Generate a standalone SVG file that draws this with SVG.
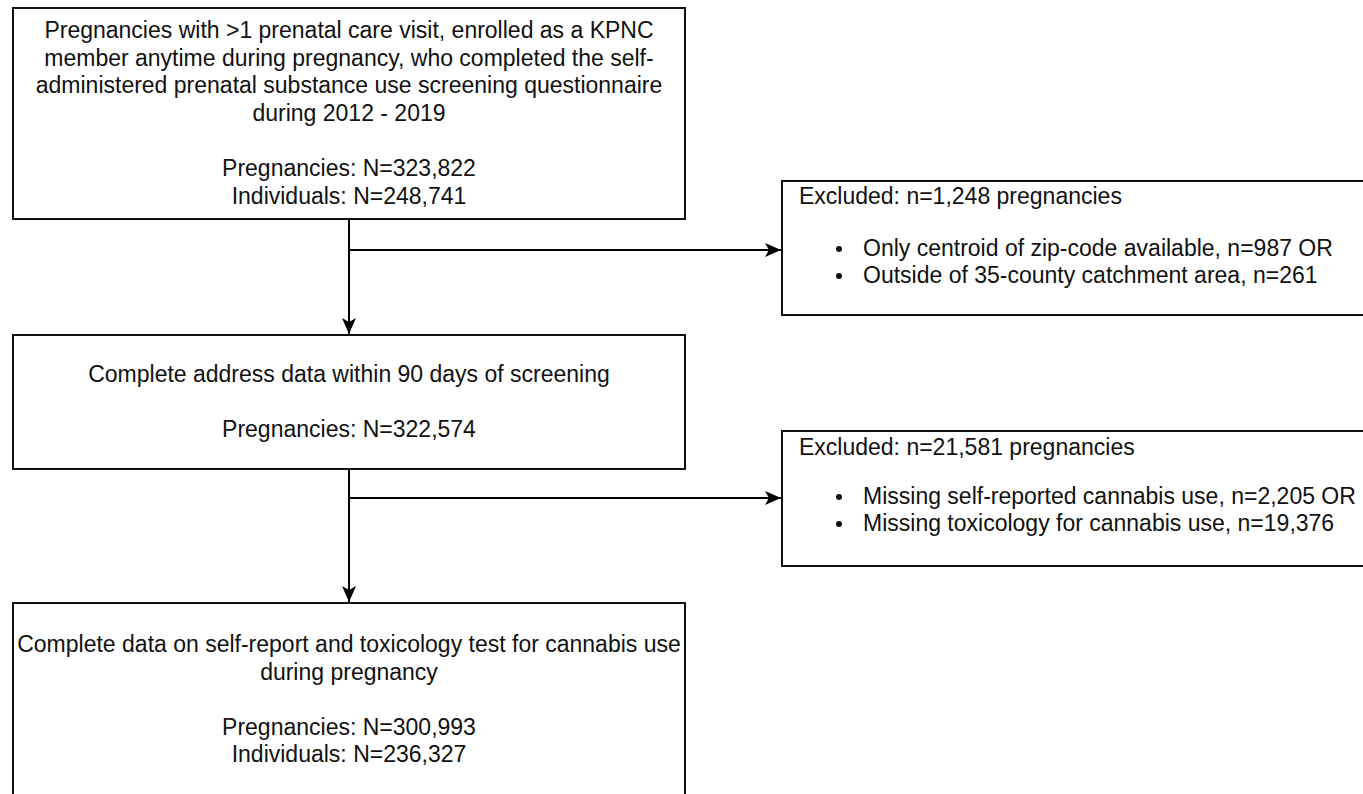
<svg xmlns="http://www.w3.org/2000/svg" width="1363" height="794" viewBox="0 0 1363 794">
<style>
.box{fill:#fff;stroke:#111;stroke-width:2}
.t{font-family:"Liberation Sans",Arial,sans-serif;font-size:23px;fill:#111}
.c{text-anchor:middle}
.edge{fill:none;stroke:#000;stroke-width:2}
.dot{fill:#111}
</style>
<defs>
<marker id="arr" viewBox="0 0 16 14" refX="16" refY="7" markerWidth="16" markerHeight="14" markerUnits="userSpaceOnUse" orient="auto">
<path d="M0,0 L16,7 L0,14 L4,7 Z" fill="#000"/>
</marker>
</defs>
<rect width="1363" height="794" fill="#fff"/>
<g id="edges">
<path class="edge" d="M349,219 V334" marker-end="url(#arr)"/>
<path class="edge" d="M350,250 H781" marker-end="url(#arr)"/>
<path class="edge" d="M349,469 V602" marker-end="url(#arr)"/>
<path class="edge" d="M350,498 H781" marker-end="url(#arr)"/>
</g>
<g id="n1">
<rect class="box" x="13" y="8" width="672" height="211"/>
<text class="t c" x="349" y="38">Pregnancies with &gt;1 prenatal care visit, enrolled as a KPNC</text>
<text class="t c" x="349" y="65.6">member anytime during pregnancy, who completed the self-</text>
<text class="t c" x="349" y="93.2">administered prenatal substance use screening questionnaire</text>
<text class="t c" x="349" y="120.8">during 2012 - 2019</text>
<text class="t c" x="349" y="176">Pregnancies: N=323,822</text>
<text class="t c" x="349" y="203.6">Individuals: N=248,741</text>
</g>
<g id="n2">
<rect class="box" x="782" y="181" width="590" height="134"/>
<text class="t" x="799" y="204">Excluded: n=1,248 pregnancies</text>
<circle class="dot" cx="839" cy="249" r="3"/>
<text class="t" x="863" y="256">Only centroid of zip-code available, n=987 OR</text>
<circle class="dot" cx="839" cy="276" r="3"/>
<text class="t" x="863" y="283">Outside of 35-county catchment area, n=261</text>
</g>
<g id="n3">
<rect class="box" x="13" y="335" width="672" height="134"/>
<text class="t c" x="349" y="382">Complete address data within 90 days of screening</text>
<text class="t c" x="349" y="437">Pregnancies: N=322,574</text>
</g>
<g id="n4">
<rect class="box" x="782" y="431" width="590" height="135"/>
<text class="t" x="799" y="455">Excluded: n=21,581 pregnancies</text>
<circle class="dot" cx="839" cy="497" r="3"/>
<text class="t" x="863" y="504">Missing self-reported cannabis use, n=2,205 OR</text>
<circle class="dot" cx="839" cy="524" r="3"/>
<text class="t" x="863" y="531">Missing toxicology for cannabis use, n=19,376</text>
</g>
<g id="n5">
<rect class="box" x="13" y="603" width="672" height="194"/>
<text class="t c" x="349" y="652">Complete data on self-report and toxicology test for cannabis use</text>
<text class="t c" x="349" y="679.6">during pregnancy</text>
<text class="t c" x="349" y="734.8">Pregnancies: N=300,993</text>
<text class="t c" x="349" y="762.4">Individuals: N=236,327</text>
</g>
</svg>
